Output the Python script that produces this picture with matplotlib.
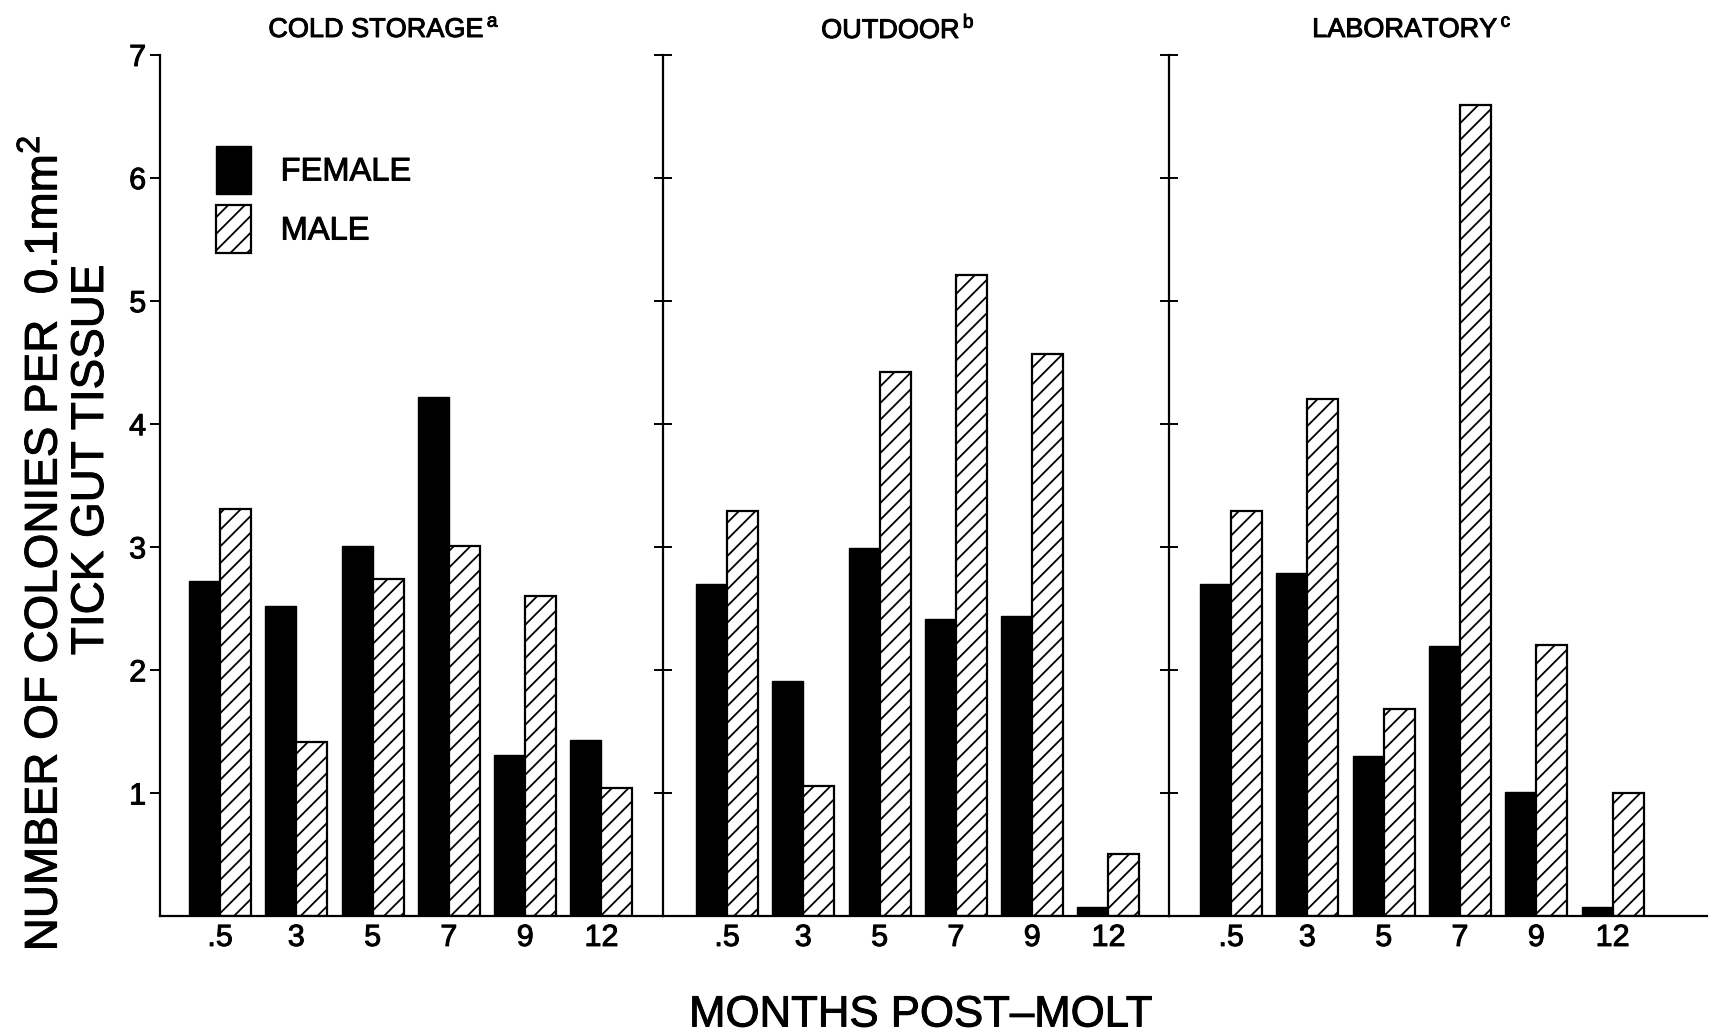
import matplotlib
matplotlib.use('Agg')
import matplotlib.pyplot as plt
import matplotlib.patheffects as pe
import numpy as np

BASE = 'Liberation Sans'
plt.rcParams['font.family'] = [BASE, 'DejaVu Sans']
plt.rcParams['mathtext.fontset'] = 'custom'
plt.rcParams['mathtext.rm'] = BASE
plt.rcParams['hatch.linewidth'] = 1.3
plt.rcParams['hatch.color'] = 'black'

# ---- data ----
months = ['.5', '3', '5', '7', '9', '12']
panel_titles = ['COLD STORAGE', 'OUTDOOR', 'LABORATORY']
panel_notes = ['a', 'b', 'c']
female_cold = [2.72, 2.52, 3.01, 4.22, 1.31, 1.43]
male_cold = [3.31, 1.41, 2.74, 3.01, 2.60, 1.04]
female_outdoor = [2.70, 1.91, 2.99, 2.41, 2.44, 0.07]
male_outdoor = [3.29, 1.06, 4.42, 5.21, 4.57, 0.50]
female_lab = [2.70, 2.79, 1.30, 2.19, 1.01, 0.07]
male_lab = [3.29, 4.20, 1.68, 6.59, 2.20, 1.00]
y_ticks = [1, 2, 3, 4, 5, 6, 7]

females = [female_cold, female_outdoor, female_lab]
males = [male_cold, male_outdoor, male_lab]

heavy = [pe.withStroke(linewidth=0.7, foreground='black')]

W, H = 1710, 1035
xlims = [(-0.786, 5.806), (-0.839, 5.794), (-0.813, 6.238)]
fig = plt.figure(figsize=(W / 100, H / 100), dpi=100)
gs = fig.add_gridspec(1, 3, left=160 / W, right=1707 / W, bottom=1 - 916 / H,
                      top=1 - 54.5 / H, wspace=0,
                      width_ratios=[b - a for a, b in xlims])
bw = 0.406
axes = []
for i in range(3):
    ax = fig.add_subplot(gs[0, i], sharey=axes[0] if axes else None)
    axes.append(ax)
    x = np.arange(len(months))
    bf = ax.bar(x - bw / 2, females[i], bw, color='black', edgecolor='black',
                linewidth=1.0, label='FEMALE')
    bm = ax.bar(x + bw / 2, males[i], bw, color='white', edgecolor='black',
                linewidth=1.6, hatch='//', label='MALE')
    ax.set_xlim(*xlims[i])
    ax.set_ylim(0, 7)
    ax.set_xticks(x)
    ax.set_xticklabels(months, fontsize=22)
    ax.tick_params(axis='x', length=0, pad=5)
    for s in ['top', 'right']:
        ax.spines[s].set_visible(False)
    ax.spines['left'].set_linewidth(1.6)
    ax.spines['bottom'].set_linewidth(1.6)
    ax.set_yticks(y_ticks)
    if i == 0:
        ax.tick_params(axis='y', direction='out', length=7, width=1.4, labelsize=22, pad=3)
        handles = [bf, bm]
    else:
        ax.tick_params(axis='y', direction='inout', length=13, width=1.4, labelleft=False)
    for lab in ax.get_xticklabels() + ax.get_yticklabels():
        lab.set_path_effects(heavy)

title_x = [384, 898, 1412]
for t, n, tx in zip(panel_titles, panel_notes, title_x):
    fig.text(tx / W, 1 - 30 / H, t + r'$^{\,\mathregular{' + n + '}}$', ha='center',
             va='center', fontsize=19.5, path_effects=heavy)

leg = axes[0].legend(handles=handles, labels=['FEMALE', 'MALE'], loc='upper left',
                     bbox_to_anchor=(216 / W, 1 - 146 / H), bbox_transform=fig.transFigure,
                     frameon=False, borderpad=0, borderaxespad=0, handlelength=1.08,
                     handleheight=1.885, handletextpad=0.9, labelspacing=0.34,
                     prop={'size': 23.5})
for t in leg.get_texts():
    t.set_path_effects(heavy)

fig.text(45 / W, 1 - 543 / H, r'NUMBER OF COLONIES PER  0.1mm$^{\mathregular{2}}$',
         rotation=90, ha='center', va='center', fontsize=33, path_effects=heavy)
fig.text(91 / W, 1 - 460 / H, 'TICK GUT TISSUE', rotation=90, ha='center',
         va='center', fontsize=33, path_effects=heavy)
fig.text(921 / W, 1 - 1015 / H, 'MONTHS POST\u2013MOLT', ha='center', va='center',
         fontsize=31.5, path_effects=heavy)

fig.savefig('out.png', dpi=100, facecolor='white')
